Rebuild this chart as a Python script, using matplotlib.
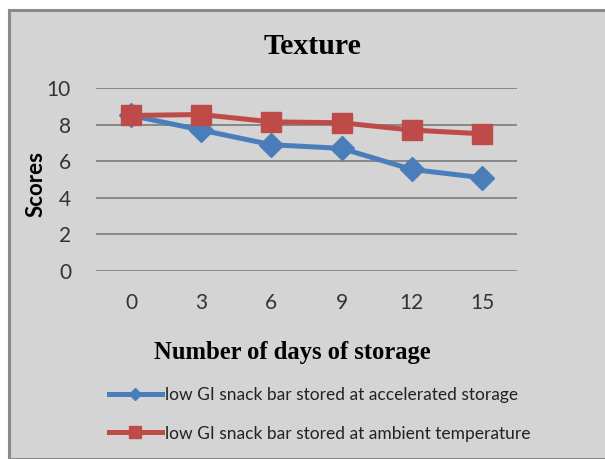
import matplotlib
matplotlib.use("Agg")
import matplotlib.pyplot as plt
from matplotlib.lines import Line2D
from matplotlib.patches import Rectangle

days = ["0", "3", "6", "9", "12", "15"]
accelerated = [8.5, 7.7, 6.9, 6.7, 5.55, 5.1]
ambient = [8.5, 8.55, 8.15, 8.1, 7.7, 7.5]
yticks = [0, 2, 4, 6, 8, 10]
label_acc = "low GI snack bar stored at accelerated storage"
label_amb = "low GI snack bar stored at ambient temperature"

BLUE = "#4a7ebb"
RED = "#be4b48"
BG = "#d4d4d4"

fig = plt.figure(figsize=(6.05, 4.59), dpi=100)
fig.patch.set_facecolor("white")
W, H = 605, 459
# chart area background with border
fig.patches.append(Rectangle((9 / W, 0), 1.0, 1 - 10 / H, transform=fig.transFigure,
                             facecolor=BG, edgecolor="#8a8a8a", linewidth=2.2, zorder=-5))

ax = fig.add_axes([96 / W, 1 - 271 / H, (517 - 96) / W, (271 - 88) / H])
ax.set_facecolor(BG)
x = list(range(len(days)))
ax.plot(x, accelerated, color=BLUE, lw=3.6, marker="D", ms=12.5, zorder=3,
        solid_capstyle="round")
ax.plot(x, ambient, color=RED, lw=3.6, marker="s", ms=14, zorder=4)
ax.set_xlim(-0.5, len(days) - 0.5)
ax.set_ylim(0, 10)
ax.set_yticks(yticks)
ax.set_xticks(x)
ax.set_xticklabels(days)
ax.grid(axis="y", color="#878787", lw=1.4)
ax.set_axisbelow(True)
for s in ax.spines.values():
    s.set_visible(False)
ax.tick_params(axis="both", length=0, labelsize=15, labelcolor="#333333")
for lbl in ax.get_xticklabels() + ax.get_yticklabels():
    lbl.set_family("Lato")
ax.tick_params(axis="x", pad=16)
ax.tick_params(axis="y", pad=18)

fig.text(312 / W, 1 - 47 / H, "Texture", family="Liberation Serif", fontweight="bold",
         fontsize=21.5, ha="center", va="center", color="black")
fig.text(36 / W, 1 - 184 / H, "Scores", family="Lato", fontweight="bold", fontsize=16,
         rotation=90, ha="center", va="center", color="black")
fig.text(292 / W, 1 - 352 / H, "Number of days of storage", family="Liberation Serif",
         fontweight="bold", fontsize=17.7, ha="center", va="center", color="black")

h1 = Line2D([], [], color=BLUE, lw=3.6, marker="D", ms=6)
h2 = Line2D([], [], color=RED, lw=3.6, marker="s", ms=9)
leg = fig.legend([h1, h2], [label_acc, label_amb], loc="upper left",
                 bbox_to_anchor=(102 / W, 1 - 380 / H), frameon=False,
                 prop={"family": "Lato", "size": 12.5}, handlelength=3.05,
                 handletextpad=0.2, labelspacing=1.3, borderaxespad=0)
for t in leg.get_texts():
    t.set_color("#222222")

fig.savefig("out.png", dpi=100, facecolor="white")
